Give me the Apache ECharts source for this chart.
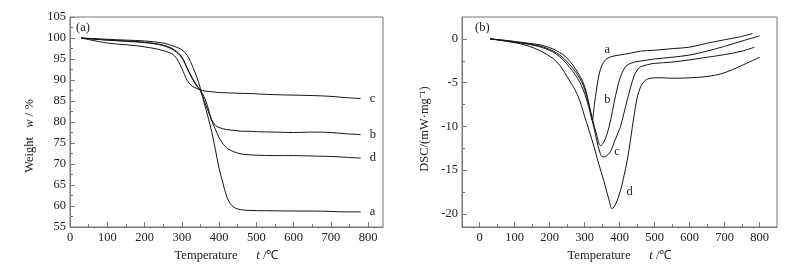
<!DOCTYPE html>
<html>
<head>
<meta charset="utf-8">
<script src="https://cdn.jsdelivr.net/npm/echarts@6/dist/echarts.min.js"></script>
<style>
  html, body { margin: 0; padding: 0; background: #fff; }
  #chart { width: 793px; height: 266px; }
</style>
</head>
<body>
<div id="chart"></div>
<script>
// (a) TGA: weight loss vs temperature
const tgaTemp = [30, 100, 150, 200, 250, 280, 300, 315, 330, 340, 350, 360, 370, 380, 390, 400, 410, 420, 430, 440, 450, 465, 480, 500, 550, 600, 650, 700, 740, 780];
const tgaA = [100, 99.7, 99.5, 99.3, 98.8, 98.0, 97.2, 95.8, 93.0, 90.8, 88.0, 84.6, 81.3, 77.8, 73.5, 69.0, 65.6, 62.4, 60.6, 59.7, 59.3, 59.05, 58.95, 58.9, 58.85, 58.8, 58.8, 58.7, 58.6, 58.6];
const tgaB = [100, 99.5, 99.3, 99.0, 98.3, 97.2, 95.5, 92.8, 90.2, 88.8, 87.5, 86.0, 83.5, 80.6, 79.2, 78.7, 78.4, 78.2, 78.1, 78.0, 77.9, 77.8, 77.8, 77.7, 77.6, 77.5, 77.6, 77.5, 77.2, 77.0];
const tgaC = [100, 98.8, 98.4, 97.9, 97.0, 95.8, 92.8, 89.8, 88.4, 88.0, 87.6, 87.4, 87.3, 87.2, 87.1, 87.0, 87.0, 86.95, 86.9, 86.9, 86.85, 86.8, 86.8, 86.7, 86.5, 86.4, 86.3, 86.1, 85.8, 85.6];
const tgaD = [100, 99.5, 99.2, 98.9, 98.2, 97.0, 95.3, 92.6, 90.0, 88.6, 87.5, 85.0, 82.8, 80.3, 78.3, 76.3, 74.9, 73.9, 73.3, 72.9, 72.6, 72.3, 72.2, 72.1, 72.0, 72.0, 71.9, 71.8, 71.6, 71.4];

// (b) DSC curves, each with its own temperature points
const dscTempA = [30, 80, 130, 180, 220, 250, 280, 300, 315, 322, 328, 335, 342, 350, 360, 375, 400, 430, 460, 500, 555, 600, 650, 700, 740, 780];
const dscA = [0, -0.2, -0.45, -0.75, -1.35, -2.2, -3.8, -5.4, -7.9, -9.3, -7.6, -5.6, -4.0, -3.0, -2.4, -2.05, -1.85, -1.65, -1.4, -1.3, -1.1, -0.95, -0.5, -0.1, 0.2, 0.6];
const dscTempB = [30, 80, 130, 180, 220, 250, 280, 300, 322, 335, 346, 355, 365, 375, 384, 395, 403, 412, 422, 435, 450, 475, 500, 550, 600, 650, 700, 750, 800];
const dscB = [0, -0.22, -0.5, -0.9, -1.6, -2.6, -4.1, -5.7, -9.0, -11.0, -12.2, -11.8, -10.8, -9.2, -7.4, -5.4, -4.3, -3.5, -3.0, -2.75, -2.6, -2.45, -2.3, -2.1, -1.85, -1.4, -0.85, -0.25, 0.34];
const dscTempC = [30, 80, 130, 180, 220, 250, 280, 300, 322, 335, 345, 352, 362, 374, 385, 395, 403, 412, 422, 432, 441, 450, 460, 480, 500, 550, 600, 650, 700, 750, 785];
const dscC = [0, -0.25, -0.55, -1.0, -1.75, -2.9, -4.5, -6.2, -9.3, -11.6, -13.1, -13.5, -13.4, -12.9, -11.8, -10.8, -10.0, -8.6, -7.0, -5.5, -4.3, -3.6, -3.2, -2.95, -2.8, -2.65, -2.4, -2.1, -1.8, -1.4, -0.95];
const dscTempD = [30, 80, 130, 180, 220, 250, 280, 300, 327, 340, 355, 370, 379, 390, 403, 412, 422, 432, 441, 450, 460, 470, 480, 500, 520, 555, 600, 650, 698, 746, 800];
const dscD = [0, -0.3, -0.7, -1.5, -2.6, -4.3, -6.4, -8.8, -12.3, -14.2, -16.2, -18.4, -19.4, -18.8, -17.3, -15.8, -13.9, -11.4, -8.9, -6.8, -5.5, -4.9, -4.6, -4.45, -4.45, -4.5, -4.45, -4.3, -3.9, -3.1, -2.1];

// tick labels
const tempTicks = [0, 100, 200, 300, 400, 500, 600, 700, 800];
const tempMinor = [50, 150, 250, 350, 450, 550, 650, 750];
const weightTicks = [55, 60, 65, 70, 75, 80, 85, 90, 95, 100, 105];
const weightMinor = [57.5, 62.5, 67.5, 72.5, 77.5, 82.5, 87.5, 92.5, 97.5, 102.5];
const dscTicks = [-20, -15, -10, -5, 0];
const dscMinor = [-17.5, -12.5, -7.5, -2.5];

const font = "Liberation Serif";
const textColor = "#222";
const axisColor = "#777";
const lineColor = "#151515";

function zip(xs, ys) { return xs.map((x, i) => [x, ys[i]]); }

function mainAxis(dim, gridIndex, min, max, ticks, name, nameGap, namePadding) {
  return {
    type: "value", gridIndex, min, max,
    position: dim === "x" ? "bottom" : "left",
    axisLine: { show: true, onZero: false, lineStyle: { color: axisColor, width: 1 } },
    axisTick: { show: true, inside: true, length: 5, customValues: ticks, lineStyle: { color: axisColor } },
    axisLabel: { customValues: ticks, color: textColor, fontFamily: font, fontSize: 12.5, margin: 4 },
    splitLine: { show: false },
    name, nameLocation: "middle", nameGap,
    nameTextStyle: {
      color: textColor, fontFamily: font, fontSize: 12.5,
      padding: namePadding || 0,
      rich: { i: { fontStyle: "italic", fontFamily: font, fontSize: 12.5, color: textColor } },
    },
  };
}

function minorAxis(dim, gridIndex, min, max, ticks) {
  return {
    type: "value", gridIndex, min, max,
    position: dim === "x" ? "bottom" : "left",
    axisLine: { show: false, onZero: false },
    axisTick: { show: true, inside: true, length: 3, customValues: ticks, lineStyle: { color: axisColor } },
    axisLabel: { show: false },
    splitLine: { show: false },
  };
}

function curve(data, xi, yi, extra) {
  return Object.assign({
    type: "line", data, xAxisIndex: xi, yAxisIndex: yi,
    showSymbol: false, symbol: "none", smooth: 0.35,
    lineStyle: { color: lineColor, width: 1 },
    silent: true,
  }, extra || {});
}

function endTag(text) {
  return { endLabel: { show: true, formatter: text, distance: 9, color: textColor, fontFamily: font, fontSize: 12.5 } };
}

function tag(text, coord) {
  return {
    markPoint: {
      symbol: "circle", symbolSize: 0, silent: true,
      label: { show: true, position: "inside", formatter: text, color: textColor, fontFamily: font, fontSize: 12.5 },
      data: [{ coord }],
    },
  };
}

const chart = echarts.init(document.getElementById("chart"), null, { renderer: "canvas" });
chart.setOption({
  animation: false,
  backgroundColor: "#fff",
  title: [
    { text: "(a)", left: 76, top: 21, padding: 0, textStyle: { fontFamily: font, fontSize: 12.5, fontWeight: "normal", color: textColor } },
    { text: "(b)", left: 475, top: 21, padding: 0, textStyle: { fontFamily: font, fontSize: 12.5, fontWeight: "normal", color: textColor } },
  ],
  grid: [
    { left: 70, top: 17, width: 313, height: 210, show: true, borderColor: axisColor, borderWidth: 1, outerBoundsMode: "none" },
    { left: 462, top: 17, width: 315, height: 210, show: true, borderColor: axisColor, borderWidth: 1, outerBoundsMode: "none" },
  ],
  xAxis: [
    mainAxis("x", 0, 0, 840, tempTicks, "Temperature      {i|t} /℃", 22),
    minorAxis("x", 0, 0, 840, tempMinor),
    mainAxis("x", 1, -50, 850, tempTicks, "Temperature      {i|t} /℃", 22),
    minorAxis("x", 1, -50, 850, tempMinor),
  ],
  yAxis: [
    mainAxis("y", 0, 55, 105, weightTicks, "Weight   {i|w} / %", 34, [0, 28, 0, 0]),
    minorAxis("y", 0, 55, 105, weightMinor),
    mainAxis("y", 1, -21.5, 2.5, dscTicks, "DSC/(mW·mg⁻¹)", 31, [0, 14, 0, 0]),
    minorAxis("y", 1, -21.5, 2.5, dscMinor),
  ],
  series: [
    curve(zip(tgaTemp, tgaA), 0, 0, endTag("a")),
    curve(zip(tgaTemp, tgaB), 0, 0, endTag("b")),
    curve(zip(tgaTemp, tgaC), 0, 0, endTag("c")),
    curve(zip(tgaTemp, tgaD), 0, 0, endTag("d")),
    curve(zip(dscTempA, dscA), 2, 2, tag("a", [365, -1.2])),
    curve(zip(dscTempB, dscB), 2, 2, tag("b", [365, -6.9])),
    curve(zip(dscTempC, dscC), 2, 2, tag("c", [393, -12.9])),
    curve(zip(dscTempD, dscD), 2, 2, tag("d", [429, -17.5])),
  ],
});
</script>
</body>
</html>
